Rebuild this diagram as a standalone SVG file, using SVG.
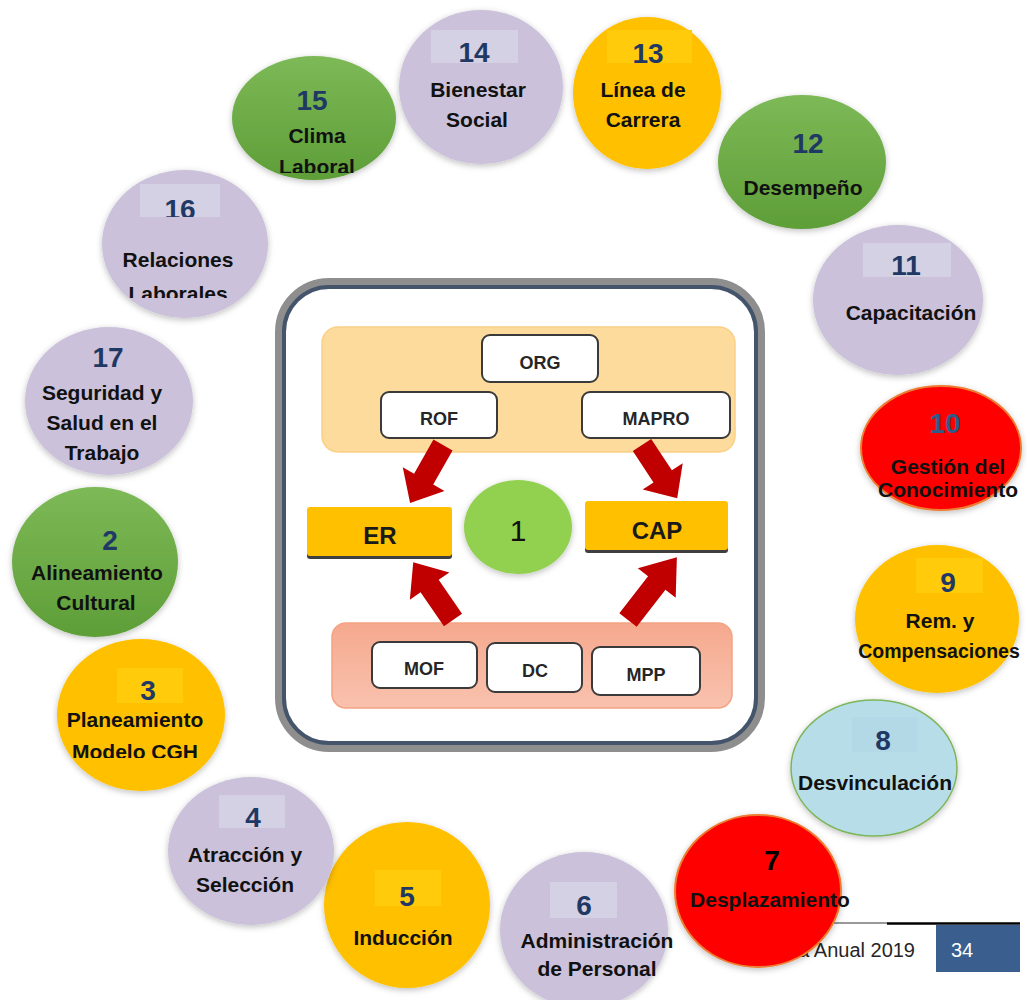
<svg xmlns="http://www.w3.org/2000/svg" width="1027" height="1000" viewBox="0 0 1027 1000">
<style>
.lbl{font-family:'Liberation Sans',Arial,sans-serif;font-weight:bold;font-size:21px;fill:#111;text-anchor:middle}
.num{font-family:'Liberation Sans',Arial,sans-serif;font-weight:bold;font-size:28px;fill:#1F3864;text-anchor:middle}
.lav{fill:#CBC1DA}
.org{fill:#FFC000}
.grn{fill:url(#gg)}
.red{fill:#FF0000;stroke:#ED7D31;stroke-width:2}
.blu{fill:#B7DEE8;stroke:#7DB55A;stroke-width:1.5}
.nbl{fill:#D3D1E3}
.nbo{fill:#FFCB0A}
.nbb{fill:#B3D8E6}
.circ{filter:url(#sh)}
.wbox{fill:#fff;stroke:#3A3A3A;stroke-width:2}
.btx{font-family:'Liberation Sans',Arial,sans-serif;font-weight:bold;font-size:18px;fill:#262626;text-anchor:middle}
.big{font-family:'Liberation Sans',Arial,sans-serif;font-weight:bold;font-size:24px;fill:#1a1a1a;text-anchor:middle}
</style>
<defs>
<linearGradient id="gg" x1="0" y1="0" x2="0" y2="1"><stop offset="0" stop-color="#7DB957"/><stop offset="1" stop-color="#5E9E38"/></linearGradient>
<linearGradient id="pg" x1="0" y1="0" x2="0" y2="1"><stop offset="0" stop-color="#F5A98E"/><stop offset="1" stop-color="#F9C2AE"/></linearGradient>
<filter id="sh" x="-20%" y="-20%" width="140%" height="140%"><feDropShadow dx="0" dy="2" stdDeviation="3" flood-color="#000" flood-opacity="0.25"/></filter>
<path id="arr" d="M0,-11 L40,-11 L40,-24 L68,0 L40,24 L40,11 L0,11 Z" fill="#C00000"/>
<clipPath id="c15"><rect x="200" y="0" width="250" height="173"/></clipPath>
<clipPath id="c16a"><rect x="100" y="150" width="200" height="67"/></clipPath>
<clipPath id="c16b"><rect x="100" y="220" width="200" height="78"/></clipPath>
<clipPath id="c3"><rect x="40" y="700" width="220" height="58"/></clipPath>
<clipPath id="c10"><rect x="840" y="440" width="187" height="58"/></clipPath>
</defs>

<!-- footer (under circles) -->
<g id="footer">
<line x1="805" y1="923" x2="887" y2="923" stroke="#777" stroke-width="1.5"/>
<line x1="887" y1="923.5" x2="1020" y2="923.5" stroke="#000" stroke-width="2.5"/>
<text x="915" y="957" font-family="'Liberation Sans',Arial,sans-serif" font-size="20" fill="#262626" text-anchor="end">a Anual 2019</text>
<rect x="936" y="925" width="84" height="47" fill="#3A5F8F"/>
<text x="962" y="957" font-family="'Liberation Sans',Arial,sans-serif" font-size="20" fill="#fff" text-anchor="middle">34</text>
</g>

<!-- central diagram -->
<g id="center">
<rect x="279" y="282" width="482" height="466" rx="50" fill="#fff" stroke="#8E8E8E" stroke-width="8"/>
<rect x="284" y="287" width="472" height="456" rx="45" fill="#fff" stroke="#44546A" stroke-width="4"/>
<rect x="322" y="327" width="413" height="125" rx="16" fill="#FDDB9C" stroke="#FAD087" stroke-width="1.5"/>
<rect x="332" y="623" width="400" height="85" rx="14" fill="url(#pg)" stroke="#F4A383" stroke-width="1.5"/>
</g>
<g id="n-org"><rect class="wbox" x="482" y="335" width="116" height="47" rx="8"/><text class="btx" x="540" y="369">ORG</text></g>
<g id="n-rof"><rect class="wbox" x="381" y="392" width="116" height="46" rx="8"/><text class="btx" x="439" y="425">ROF</text></g>
<g id="n-mapro"><rect class="wbox" x="582" y="392" width="148" height="46" rx="8"/><text class="btx" x="656" y="425">MAPRO</text></g>
<g id="n-mof"><rect class="wbox" x="372" y="642" width="105" height="46" rx="8"/><text class="btx" x="424" y="675">MOF</text></g>
<g id="n-dc"><rect class="wbox" x="487" y="643" width="95" height="49" rx="8"/><text class="btx" x="535" y="677">DC</text></g>
<g id="n-mpp"><rect class="wbox" x="592" y="647" width="108" height="48" rx="8"/><text class="btx" x="646" y="681">MPP</text></g>
<g id="n-er"><rect x="307" y="510" width="145" height="49" rx="3" fill="#3F3F3F"/><rect x="307" y="507" width="145" height="49" rx="3" fill="#FFC000"/><text class="big" x="380" y="544">ER</text></g>
<g id="n-cap"><rect x="585" y="504" width="143" height="49" rx="3" fill="#3F3F3F"/><rect x="585" y="501" width="143" height="49" rx="3" fill="#FFC000"/><text class="big" x="657" y="539">CAP</text></g>
<g id="n-1"><ellipse class="circ" cx="518" cy="527" rx="54" ry="47" fill="#92D050"/><text x="518" y="541" font-family="'Liberation Sans',Arial,sans-serif" font-size="30" fill="#111" text-anchor="middle">1</text></g>

<g id="connectors">
<use href="#arr" transform="translate(443,445) rotate(119.6) scale(0.98,1)"/>
<use href="#arr" transform="translate(642,445) rotate(56.6) scale(0.94,1)"/>
<use href="#arr" transform="translate(453,620) rotate(-124.6) scale(1.03,1)"/>
<use href="#arr" transform="translate(628,620) rotate(-52.1) scale(1.17,1)"/>
</g>

<!-- outer ring circles -->
<g id="c14"><ellipse class="circ lav" cx="481" cy="87" rx="82" ry="77"/><rect class="nbl" x="431" y="30" width="87" height="33"/><text class="num" x="474" y="62">14</text><text class="lbl" x="478" y="97">Bienestar</text><text class="lbl" x="477" y="127">Social</text></g>
<g id="c13"><ellipse class="circ org" cx="647" cy="93" rx="74" ry="76"/><rect class="nbo" x="607" y="30" width="85" height="33"/><text class="num" x="648" y="63">13</text><text class="lbl" x="643" y="97">Línea de</text><text class="lbl" x="643" y="127">Carrera</text></g>
<g id="c12"><ellipse class="circ grn" cx="802" cy="162" rx="84" ry="67"/><text class="num" x="808" y="153">12</text><text class="lbl" x="803" y="195">Desempeño</text></g>
<g id="c11"><ellipse class="circ lav" cx="898" cy="300" rx="85" ry="75"/><rect class="nbl" x="863" y="243" width="88" height="34"/><text class="num" x="906" y="275">11</text><text class="lbl" x="911" y="320">Capacitación</text></g>
<g id="c10"><ellipse class="circ red" cx="941" cy="448" rx="80" ry="62"/><text class="num" x="945" y="433" style="fill:#2E5C8A">10</text><text class="lbl" x="948" y="474">Gestión del</text><text class="lbl" x="948" y="497" clip-path="url(#c10)">Conocimiento</text></g>
<g id="c9"><ellipse class="circ org" cx="937" cy="619" rx="82" ry="74"/><rect class="nbo" x="916" y="558" width="67" height="35"/><text class="num" x="948" y="592">9</text><text class="lbl" x="940" y="628">Rem. y</text><text class="lbl" x="939" y="658" style="font-size:19.5px">Compensaciones</text></g>
<g id="c8"><ellipse class="circ blu" cx="874" cy="768" rx="83" ry="68"/><rect class="nbb" x="852" y="717" width="65" height="35"/><text class="num" x="883" y="750">8</text><text class="lbl" x="875" y="790">Desvinculación</text></g>
<g id="c6"><ellipse class="circ lav" cx="584" cy="930" rx="84" ry="78"/><rect class="nbl" x="550" y="882" width="67" height="36"/><text class="num" x="584" y="915">6</text><text class="lbl" x="597" y="948">Administración</text><text class="lbl" x="597" y="976">de Personal</text></g>
<g id="c7"><ellipse class="circ red" cx="758" cy="891" rx="83" ry="76"/><text class="num" x="772" y="870" style="fill:#000">7</text><text class="lbl" x="770" y="907">Desplazamiento</text></g>
<g id="c5"><ellipse class="circ org" cx="407" cy="905" rx="83" ry="83"/><rect class="nbo" x="375" y="870" width="66" height="36"/><text class="num" x="407" y="906">5</text><text class="lbl" x="403" y="945">Inducción</text></g>
<g id="c4"><ellipse class="circ lav" cx="251" cy="851" rx="83" ry="74"/><rect class="nbl" x="219" y="795" width="66" height="33"/><text class="num" x="253" y="827">4</text><text class="lbl" x="245" y="862">Atracción y</text><text class="lbl" x="245" y="892">Selección</text></g>
<g id="c3"><ellipse class="circ org" cx="141" cy="715" rx="84" ry="76"/><rect class="nbo" x="117" y="668" width="66" height="35"/><text class="num" x="148" y="700">3</text><text class="lbl" x="135" y="727">Planeamiento</text><text class="lbl" x="135" y="759" clip-path="url(#c3)">Modelo CGH</text></g>
<g id="c2"><ellipse class="circ grn" cx="95" cy="562" rx="83" ry="75"/><text class="num" x="110" y="550">2</text><text class="lbl" x="97" y="580">Alineamiento</text><text class="lbl" x="96" y="610">Cultural</text></g>
<g id="c17"><ellipse class="circ lav" cx="109" cy="401" rx="84" ry="74"/><text class="num" x="108" y="367">17</text><text class="lbl" x="102" y="400">Seguridad y</text><text class="lbl" x="102" y="430">Salud en el</text><text class="lbl" x="102" y="460">Trabajo</text></g>
<g id="c16"><ellipse class="circ lav" cx="185" cy="244" rx="83" ry="74"/><rect class="nbl" x="140" y="184" width="80" height="33"/><text class="num" x="180" y="219" clip-path="url(#c16a)">16</text><text class="lbl" x="178" y="267">Relaciones</text><text class="lbl" x="178" y="301" clip-path="url(#c16b)">Laborales</text></g>
<g id="c15"><ellipse class="circ grn" cx="314" cy="118" rx="82" ry="62"/><text class="num" x="312" y="110">15</text><text class="lbl" x="317" y="143">Clima</text><text class="lbl" x="317" y="174" clip-path="url(#c15)">Laboral</text></g>
</svg>
